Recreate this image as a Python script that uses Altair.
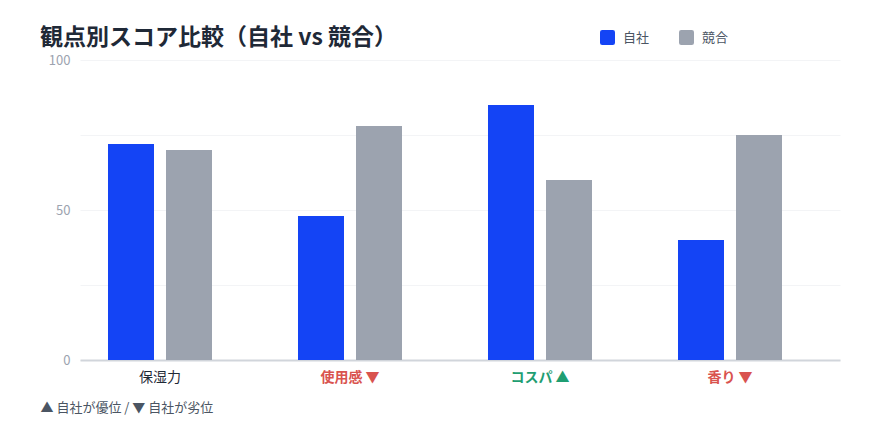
import altair as alt
import pandas as pd

categories = ["保湿力", "使用感", "コスパ", "香り"]
series = ["自社", "競合"]
own_scores = [72, 48, 85, 40]
comp_scores = [70, 78, 60, 75]
markers = ["", "▼", "▲", "▼"]
footnote = "▲ 自社が優位 / ▼ 自社が劣位"
title_text = "観点別スコア比較（自社 vs 競合）"

rows = []
for c, a, b in zip(categories, own_scores, comp_scores):
    rows.append({"観点": c, "系列": series[0], "スコア": a})
    rows.append({"観点": c, "系列": series[1], "スコア": b})
df = pd.DataFrame(rows)

FONT = "Noto Sans CJK JP"
RED = "#D9534F"
GREEN = "#1F9E72"
DARK = "#1F2937"

label_expr = "datum.value"
color_expr = f"'{DARK}'"
weight_expr = "'normal'"
for c, m in zip(categories, markers):
    if m:
        label_expr = f"datum.value == '{c}' ? '{c} {m}' : ({label_expr})"
        col = GREEN if m == "▲" else RED
        color_expr = f"datum.value == '{c}' ? '{col}' : ({color_expr})"
        weight_expr = f"datum.value == '{c}' ? 'bold' : ({weight_expr})"

rounded = ("M -0.7 -1 L 0.7 -1 Q 1 -1 1 -0.7 L 1 0.7 Q 1 1 0.7 1 "
           "L -0.7 1 Q -1 1 -1 0.7 L -1 -0.7 Q -1 -1 -0.7 -1 Z")

chart = alt.Chart(df).mark_bar().encode(
    x=alt.X("観点:N", sort=categories,
            scale=alt.Scale(paddingInner=0.4526, paddingOuter=0.2263, align=0.3256),
            axis=alt.Axis(
                title=footnote, titleAnchor="start", titleAlign="left",
                titleX=-40, titleY=41, titleBaseline="top",
                titleFont=FONT, titleFontSize=13, titleFontWeight="normal",
                titleColor="#4B5563",
                labelExpr=label_expr, labelAngle=0,
                labelColor={"expr": color_expr},
                labelFontWeight={"expr": weight_expr},
                labelFont=FONT, labelFontSize=14, labelPadding=10,
                ticks=False, domainColor="#D1D5DB", domainWidth=2,
                grid=False)),
    xOffset=alt.XOffset("系列:N", sort=series,
                        scale=alt.Scale(paddingInner=0.207, paddingOuter=0)),
    y=alt.Y("スコア:Q", scale=alt.Scale(domain=[0, 100], nice=False),
            axis=alt.Axis(
                title=None, values=[0, 25, 50, 75, 100],
                labelExpr="datum.value % 50 == 0 ? datum.label : ''",
                labelColor="#9CA3AF", labelFont=FONT, labelFontSize=13,
                labelPadding=10, ticks=False, domain=False,
                gridColor="#F3F4F6", gridWidth=1)),
    color=alt.Color("系列:N", sort=series,
                    scale=alt.Scale(domain=series, range=["#1444F5", "#9CA3AF"]),
                    legend=alt.Legend(
                        title=None, orient="none", direction="horizontal",
                        legendX=520, legendY=-30,
                        symbolType=rounded, symbolSize=225,
                        symbolStrokeWidth=0, symbolOpacity=1,
                        labelFont=FONT, labelFontSize=13, labelColor="#4B5563",
                        columnPadding=29, labelOffset=8)),
).properties(
    width=760, height=300,
    title=alt.TitleParams(title_text, anchor="start", frame="group", dx=-40,
                          font=FONT, fontSize=23, fontWeight="bold",
                          color=DARK, offset=-20),
    autosize=alt.AutoSizeParams(type="none"),
    padding={"left": 80, "top": 60, "right": 40, "bottom": 70},
).configure(background="white").configure_view(stroke=None)

chart.save("out.html", embed_options={"renderer": "svg", "actions": False})
